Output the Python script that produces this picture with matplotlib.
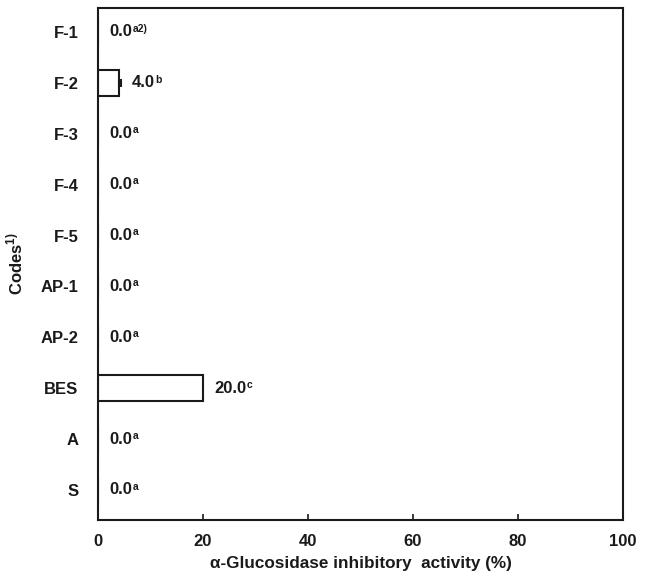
import numpy as np
import matplotlib
matplotlib.use("Agg")
import matplotlib.pyplot as plt

plt.rcParams['font.family'] = ['Liberation Sans', 'DejaVu Sans']
plt.rcParams['font.weight'] = 'bold'
plt.rcParams['mathtext.fontset'] = 'custom'
plt.rcParams['mathtext.rm'] = 'Liberation Sans:bold'
plt.rcParams['mathtext.bf'] = 'Liberation Sans:bold'

# Datos
codigos = ["F-1", "F-2", "F-3", "F-4", "F-5", "AP-1", "AP-2", "BES", "A", "S"]
actividad = [0.0, 4.0, 0.0, 0.0, 0.0, 0.0, 0.0, 20.0, 0.0, 0.0]
error = [0.0, 0.3, 0.0, 0.0, 0.0, 0.0, 0.0, 0.0, 0.0, 0.0]
letras = ["a2)", "b", "a", "a", "a", "a", "a", "c", "a", "a"]
xticks = [0, 20, 40, 60, 80, 100]

negro = "#1a1a1a"

fig = plt.figure(figsize=(6.46, 5.77), dpi=100)
ax = fig.add_axes([0.1517, 0.0988, 0.8127, 0.8872])

pos = np.arange(len(codigos))
ax.barh(pos, actividad, height=0.5, color="white", edgecolor=negro, linewidth=1.5)

# barras de error solo donde hay error
con_error = [i for i in range(len(error)) if error[i] > 0]
ax.errorbar([actividad[i] for i in con_error], [pos[i] for i in con_error],
            xerr=[[0] * len(con_error), [error[i] for i in con_error]],
            fmt="none", ecolor=negro, elinewidth=1.2, capsize=3, capthick=1.5)

for i in range(len(codigos)):
    xe = actividad[i] + error[i]
    t = ax.annotate(f"{actividad[i]:.1f}", xy=(xe, pos[i]), xytext=(11, 0),
                    textcoords="offset pixels",
                    ha="left", va="center", fontsize=12, fontweight="bold", color=negro)
    ax.annotate(letras[i], xy=(1, 0.72), xycoords=t, xytext=(1, 0), textcoords="offset pixels",
                ha="left", va="center", fontsize=7.5, fontweight="bold", color=negro)

ax.set_xlim(0, 100)
ax.set_ylim(9.59, -0.47)
ax.set_yticks(pos)
ax.set_yticklabels(codigos)
ax.set_xticks(xticks)
ax.tick_params(axis="y", length=0, pad=14, labelsize=12, colors=negro)
ax.tick_params(axis="x", direction="in", length=4, width=1.2, pad=10, labelsize=12, colors=negro)
for s in ax.spines.values():
    s.set_linewidth(1.5)
    s.set_color(negro)

ax.set_xlabel("α-Glucosidase inhibitory  activity (%)", fontsize=12.3, fontweight="bold",
              color=negro, labelpad=5)
ax.set_ylabel(r"Codes$^{1)}$", fontsize=12, fontweight="bold", color=negro, labelpad=11)

fig.savefig("out.png", dpi=100)
